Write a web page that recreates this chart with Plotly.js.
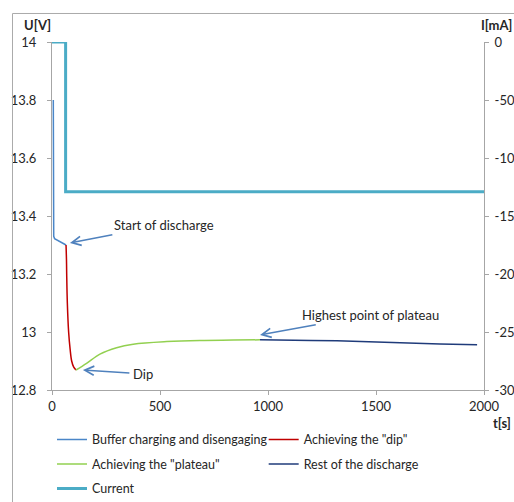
<!DOCTYPE html>
<html>
<head>
<meta charset="utf-8">
<script src="https://cdn.plot.ly/plotly-3.0.1.min.js"></script>
<style>
  html, body { margin: 0; padding: 0; background: #fff; }
  #chart { width: 514px; height: 502px; }
</style>
</head>
<body>
<div id="chart"></div>
<script>
// Battery discharge: voltage phases (left axis) and current (right axis)
const bufferT = [6, 7, 8, 12, 25, 45, 65];
const bufferU = [13.80, 13.40, 13.33, 13.322, 13.316, 13.309, 13.30];

const dipT = [65, 67, 68, 71, 77, 84, 91, 100, 111];
const dipU = [13.30, 13.25, 13.20, 13.10, 13.00, 12.94, 12.90, 12.88, 12.869];

const plateauT = [111, 160, 222, 299, 376, 531, 685, 839, 963];
const plateauU = [12.869, 12.892, 12.924, 12.946, 12.958, 12.967, 12.971, 12.972, 12.973];

const restT = [963, 1100, 1200, 1319, 1472, 1657, 1796, 1968];
const restU = [12.973, 12.973, 12.971, 12.970, 12.966, 12.961, 12.959, 12.956];

const currentT = [0, 63, 63, 2000];
const currentI = [0, 0, -129, -129];

const seriesNames = [
  'Buffer charging and disengaging',
  'Achieving the "dip"',
  'Achieving the "plateau"',
  'Rest of the discharge',
  'Current'
];

// Axis ticks
const tTicks = [0, 500, 1000, 1500, 2000];
const uTicks = [12.8, 13, 13.2, 13.4, 13.6, 13.8, 14];
const iTicks = [0, -50, -100, -150, -200, -250, -300];
const iTickText = ['0', '-50', '-100', '-150', '-200', '-250', '-300'];

// Callout labels and the points they mark
const callouts = [
  { text: 'Start of discharge', t: 83, u: 13.307, ax: 94, ay: -18 },
  { text: 'Dip', t: 143, u: 12.869, ax: 60, ay: 4 },
  { text: 'Highest point of plateau', t: 963, u: 12.990, ax: 110, ay: -20 }
];

const FONT = 'Lato, "Open Sans", sans-serif';
const TEXT = '#262626';
const AXIS = '#a6a6a6';

const traces = [
  { x: bufferT, y: bufferU, name: seriesNames[0], mode: 'lines',
    line: { color: '#4a86c8', width: 1.5 }, legend: 'legend', legendgroup: 'g1' },
  { x: dipT, y: dipU, name: seriesNames[1], mode: 'lines',
    line: { color: '#c00000', width: 1.5, shape: 'spline' }, legend: 'legend2', legendgroup: 'g2' },
  { x: plateauT, y: plateauU, name: seriesNames[2], mode: 'lines',
    line: { color: '#92d050', width: 1.5, shape: 'spline' }, legend: 'legend', legendgroup: 'g3' },
  { x: restT, y: restU, name: seriesNames[3], mode: 'lines',
    line: { color: '#1f3b7a', width: 1.5 }, legend: 'legend2', legendgroup: 'g4' },
  { x: currentT, y: currentI, name: seriesNames[4], mode: 'lines', yaxis: 'y2',
    line: { color: '#4bacc6', width: 3 }, legend: 'legend', legendgroup: 'g5' }
];

const axisCommon = {
  showline: true, linecolor: AXIS, linewidth: 1,
  ticks: 'outside', ticklen: 4, tickcolor: AXIS, tickwidth: 1,
  showgrid: false, zeroline: false, fixedrange: true,
  tickfont: { family: FONT, size: 13, color: TEXT }
};

const legendCommon = {
  orientation: 'v', xanchor: 'left', yanchor: 'top', y: -0.1,
  bgcolor: 'rgba(0,0,0,0)', borderwidth: 0, tracegroupgap: 5.25,
  font: { family: FONT, size: 12.5, color: TEXT }
};

const layout = {
  width: 514, height: 502,
  margin: { l: 52, r: 30, t: 42, b: 112, pad: 0, autoexpand: false },
  paper_bgcolor: '#ffffff', plot_bgcolor: '#ffffff',
  font: { family: FONT, size: 13, color: TEXT },
  showlegend: true,
  xaxis: Object.assign({}, axisCommon, {
    range: [0, 2000], tickmode: 'array', tickvals: tTicks,
    ticklabelstandoff: 0
  }),
  yaxis: Object.assign({}, axisCommon, {
    range: [12.8, 14], tickmode: 'array', tickvals: uTicks,
    ticklabelstandoff: 8
  }),
  yaxis2: Object.assign({}, axisCommon, {
    overlaying: 'y', side: 'right', range: [-300, 0],
    tickmode: 'array', tickvals: iTicks, ticktext: iTickText, ticklabelstandoff: 3
  }),
  legend: Object.assign({}, legendCommon, { x: 0.0 }),
  legend2: Object.assign({}, legendCommon, { x: 0.49 }),
  annotations: callouts.map(c => ({
    x: c.t, y: c.u, xref: 'x', yref: 'y',
    text: c.text, showarrow: true, ax: c.ax, ay: c.ay,
    arrowhead: 5, arrowsize: 1.2, arrowwidth: 1.5, arrowcolor: '#4f81bd',
    standoff: 0, startstandoff: 2,
    font: { family: FONT, size: 13, color: TEXT }
  })).concat([
    { text: 'U[V]', xref: 'paper', yref: 'paper', x: -0.0336, y: 1.0489,
      xanchor: 'center', yanchor: 'middle', showarrow: false,
      font: { family: FONT, size: 13, color: TEXT, weight: 700 } },
    { text: 'I[mA]', xref: 'paper', yref: 'paper', x: 1.0278, y: 1.0489,
      xanchor: 'center', yanchor: 'middle', showarrow: false,
      font: { family: FONT, size: 13, color: TEXT, weight: 700 } },
    { text: 't[s]', xref: 'paper', yref: 'paper', x: 1.068, y: -0.0948,
      xanchor: 'right', yanchor: 'middle', showarrow: false,
      font: { family: FONT, size: 13, color: TEXT, weight: 700 } }
  ]),
  shapes: [
    // outer chart frame (left and top edges)
    { type: 'line', xref: 'paper', yref: 'paper', x0: -0.0914, x1: 1.3, y0: 1.0819, y1: 1.0819,
      line: { color: '#ababab', width: 1 } },
    { type: 'line', xref: 'paper', yref: 'paper', x0: -0.0914, x1: -0.0914, y0: -0.5, y1: 1.0819,
      line: { color: '#ababab', width: 1 } }
  ]
};

Plotly.newPlot('chart', traces, layout, { displayModeBar: false, staticPlot: true });
</script>
</body>
</html>
